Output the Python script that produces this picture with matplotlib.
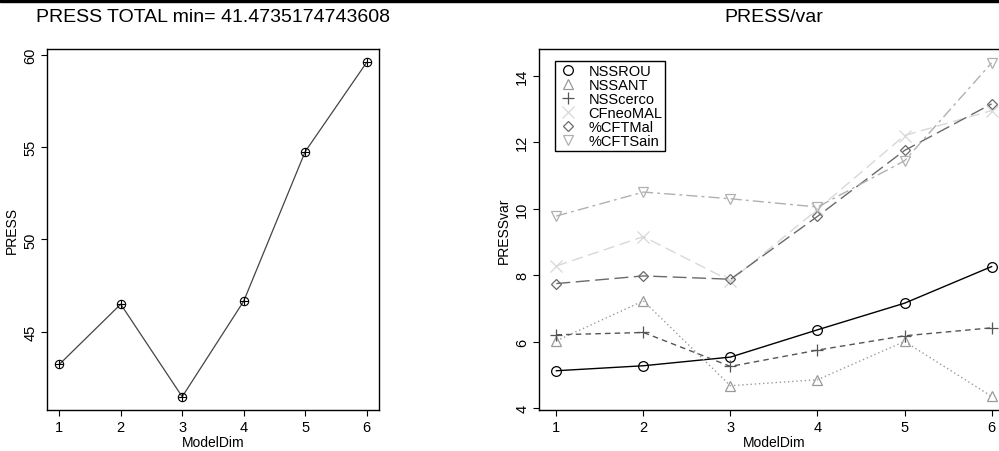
import matplotlib
matplotlib.use("Agg")
import matplotlib.pyplot as plt
from matplotlib.lines import Line2D
from matplotlib.patches import Rectangle

plt.rcParams['font.family'] = ['Liberation Sans', 'DejaVu Sans']

# dados
model_dim = [1, 2, 3, 4, 5, 6]
press_total = [43.22, 46.49, 41.47, 46.65, 54.76, 59.60]
press_title = "PRESS TOTAL min= 41.4735174743608"

series_names = ["NSSROU", "NSSANT", "NSScerco", "CFneoMAL", "%CFTMal", "%CFTSain"]
nssrou = [5.13, 5.28, 5.54, 6.36, 7.16, 8.26]
nssant = [6.03, 7.23, 4.68, 4.86, 6.01, 4.36]
nsscerco = [6.21, 6.28, 5.26, 5.75, 6.18, 6.42]
cfneomal = [8.28, 9.16, 7.83, 9.98, 12.20, 12.95]
cftmal = [7.75, 7.98, 7.88, 9.77, 11.75, 13.15]
cftsain = [9.78, 10.50, 10.30, 10.05, 11.44, 14.38]
press_var = [nssrou, nssant, nsscerco, cfneomal, cftmal, cftsain]

# estilos (parecido com matplot do R)
colors = ['black', '#9a9a9a', '#555555', '#d8d8d8', '#6a6a6a', '#b0b0b0']
styles = ['-', (0, (1, 2)), (0, (4, 3)), (0, (8, 4)), (0, (10, 4)), (0, (8, 3, 2, 3))]
markers = ['o', '^', '+', 'x', 'D', 'v']
msizes = [7, 7, 9, 8, 5, 7]

fig = plt.figure(figsize=(9.99, 4.52), dpi=100)
fig.patches.append(Rectangle((0, 0.993), 1, 0.007, transform=fig.transFigure,
                             color='black', zorder=10))


def estilo_r(ax):
    for s in ax.spines.values():
        s.set_linewidth(1.0)
    ax.tick_params(direction='out', length=4, labelsize=10.5, width=0.8, pad=3)
    for lab in ax.get_yticklabels():
        lab.set_rotation(90)
        lab.set_va('center')
    ax.set_xlabel('ModelDim', fontsize=10, labelpad=1)


# 1. PRESS total
ax1 = fig.add_axes([0.047, 0.0907, 0.3323, 0.7987])
ax1.plot(model_dim, press_total, color='#444444', lw=0.9)
ax1.plot(model_dim, press_total, 'o', mfc='none', mec='black', ms=6, mew=0.8)
ax1.plot(model_dim, press_total, '+', color='black', ms=6, mew=0.8)
ax1.set_xlim(0.8, 6.2)
ax1.set_ylim(40.75, 60.33)
ax1.set_xticks(model_dim)
ax1.set_yticks([45, 50, 55, 60])
ax1.set_ylabel('PRESS', fontsize=10, labelpad=3)
ax1.set_title(press_title, fontsize=14, pad=20)
estilo_r(ax1)

# 2. PRESS/var
ax2 = fig.add_axes([0.5395, 0.0907, 0.4705, 0.7987])
for i, vals in enumerate(press_var):
    ax2.plot(model_dim, vals, color=colors[i], ls=styles[i], lw=1.0,
             marker=markers[i], ms=msizes[i], mfc='none', mec=colors[i], mew=0.9)
ax2.set_xlim(0.8, 6.2)
ax2.set_ylim(3.95, 14.8)
ax2.set_xticks(model_dim)
ax2.set_yticks([4, 6, 8, 10, 12, 14])
ax2.set_ylabel('PRESSvar', fontsize=10, labelpad=3)
ax2.set_title('PRESS/var', fontsize=14, pad=20)
estilo_r(ax2)

handles = [Line2D([], [], ls='none', marker=markers[i], ms=msizes[i], mfc='none',
                  mec=colors[i], mew=0.9) for i in range(6)]
leg = ax2.legend(handles, series_names, loc='upper left', bbox_to_anchor=(0.034, 0.967),
                 borderaxespad=0, fontsize=10.5, labelspacing=0.0, handlelength=1.4,
                 handletextpad=0.7, borderpad=0.2, fancybox=False, framealpha=1,
                 edgecolor='black')
leg.get_frame().set_linewidth(1.0)

fig.savefig('out.png', dpi=100)
